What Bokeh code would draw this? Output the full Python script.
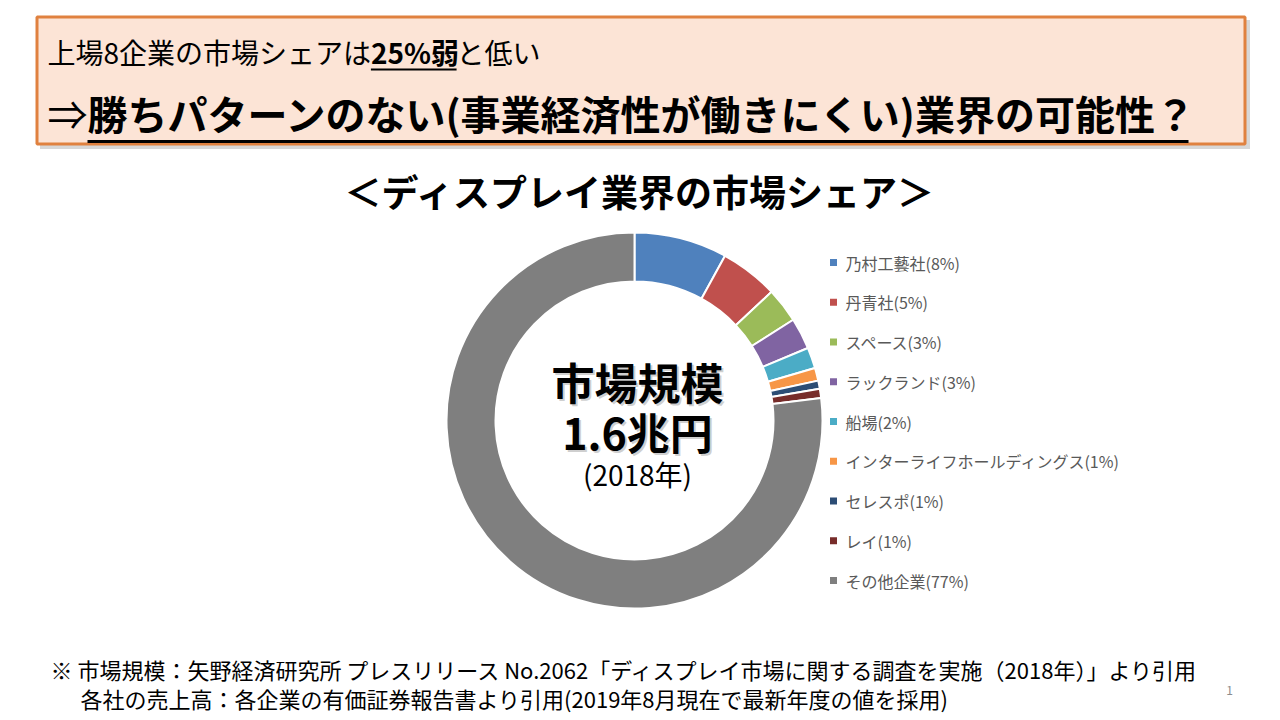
import numpy as np
from bokeh.plotting import figure
from bokeh.models import Range1d, ColumnDataSource
from bokeh.core.properties import value
from bokeh.embed import file_html
from bokeh.resources import INLINE

# ---------------- data ----------------
companies = ["乃村工藝社", "丹青社", "スペース", "ラックランド", "船場",
             "インターライフホールディングス", "セレスポ", "レイ", "その他企業"]
shares = [8.0, 5.0, 3.0, 2.7, 1.8, 1.1, 0.7, 0.8, 76.9]
share_labels = ["8%", "5%", "3%", "3%", "2%", "1%", "1%", "1%", "77%"]
colors = ["#4F81BD", "#C0504D", "#9BBB59", "#8064A2", "#4BACC6",
          "#F79646", "#2C4D75", "#772C2A", "#7F7F7F"]

headline1_a = "上場8企業の市場シェアは"
headline1_b = "25%弱"
headline1_c = "と低い"
headline2_a = "⇒"
headline2_b = "勝ちパターンのない(事業経済性が働きにくい)業界の可能性？"
chart_title = "＜ディスプレイ業界の市場シェア＞"
center_lines = ["市場規模", "1.6兆円", "(2018年)"]
note1 = "※ 市場規模：矢野経済研究所 プレスリリース No.2062「ディスプレイ市場に関する調査を実施（2018年）」より引用"
note2 = "各社の売上高：各企業の有価証券報告書より引用(2019年8月現在で最新年度の値を採用)"
page_no = "1"

FONT = value("Noto Sans CJK JP")
H = 720  # image height; y_data = H - y_image


def Y(y):
    return H - y


p = figure(width=1280, height=720, x_range=Range1d(0, 1280), y_range=Range1d(0, 720),
           output_backend="svg", toolbar_location=None, min_border=0,
           x_axis_type=None, y_axis_type=None)
p.grid.visible = False
p.outline_line_color = None
p.background_fill_color = "white"
p.border_fill_color = "white"

# ---------------- headline box ----------------
p.quad(left=[39.5], right=[1249.5], top=[Y(19.5)], bottom=[Y(148.5)],
       fill_color="#8C8C8C", fill_alpha=0.35, line_color=None)
p.quad(left=[36.5], right=[1244.5], top=[Y(16.5)], bottom=[Y(143.5)],
       fill_color="#FCE4D6", line_color="#E0813F", line_width=3)

fs1 = 28
x0 = 47
# approximate widths in em for Noto Sans CJK JP
wa = (11 + 0.55) * fs1
wb = (2 * 0.58 + 0.9 + 1.0) * fs1
p.text(x=[x0], y=[Y(51)], text=[headline1_a], text_font=FONT, text_font_size=f"{fs1}px",
       text_baseline="middle", text_align="left", text_color="black")
p.text(x=[x0 + wa], y=[Y(51)], text=[headline1_b], text_font=FONT, text_font_size=f"{fs1}px",
       text_font_style="bold", text_baseline="middle", text_align="left", text_color="black")
p.text(x=[x0 + wa + wb], y=[Y(51)], text=[headline1_c], text_font=FONT, text_font_size=f"{fs1}px",
       text_baseline="middle", text_align="left", text_color="black")
p.segment(x0=[x0 + wa], x1=[x0 + wa + wb], y0=[Y(69)], y1=[Y(69)], line_color="black", line_width=2)

fs2 = 40
p.text(x=[x0], y=[Y(112)], text=[headline2_a], text_font=FONT, text_font_size=f"{fs2}px",
       text_baseline="middle", text_align="left", text_color="black")
p.text(x=[x0 + fs2], y=[Y(112)], text=[headline2_b], text_font=FONT, text_font_size=f"{fs2}px",
       text_font_style="bold", text_baseline="middle", text_align="left", text_color="black")
p.segment(x0=[x0 + fs2], x1=[1188], y0=[Y(141)], y1=[Y(141)], line_color="black", line_width=3)

# ---------------- chart title ----------------
p.text(x=[640], y=[Y(190)], text=[chart_title], text_font=FONT, text_font_size="37px",
       text_font_style="bold", text_baseline="middle", text_align="center", text_color="black")

# ---------------- donut ----------------
frac = np.array(shares) / np.sum(shares)
cum = np.concatenate([[0], np.cumsum(frac)])
start = np.pi / 2 - 2 * np.pi * cum[:-1]
end = np.pi / 2 - 2 * np.pi * cum[1:]
src = ColumnDataSource(dict(start=start, end=end, color=colors))
p.annular_wedge(x=634, y=Y(420), inner_radius=139, outer_radius=188,
                start_angle="start", end_angle="end", direction="clock",
                fill_color="color", line_color="white", line_width=2, source=src)

# center text with soft shadow
cx = 637
for txt, yy, size, style in [(center_lines[0], 380, "43px", "bold"),
                             (center_lines[1], 430, "43px", "bold"),
                             (center_lines[2], 473, "28px", "normal")]:
    if style == "bold":
        p.text(x=[cx + 2], y=[Y(yy) - 2], text=[txt], text_font=FONT, text_font_size=size,
               text_font_style=style, text_baseline="middle", text_align="center",
               text_color="#A0A0A0", text_alpha=0.5)
    p.text(x=[cx], y=[Y(yy)], text=[txt], text_font=FONT, text_font_size=size,
           text_font_style=style, text_baseline="middle", text_align="center", text_color="black")

# ---------------- legend ----------------
n = len(companies)
ly = [Y(262 + 39.75 * i) for i in range(n)]
labels = [f"{c}({s})" for c, s in zip(companies, share_labels)]
lsrc = ColumnDataSource(dict(y=ly, color=colors, label=labels))
p.rect(x=833, y="y", width=7, height=7, fill_color="color", line_color=None, source=lsrc)
p.text(x=845, y="y", text="label", text_font=FONT, text_font_size="16px", text_color="#595959",
       text_baseline="middle", text_align="left", source=lsrc)

# ---------------- footnotes ----------------
p.text(x=[50], y=[Y(668)], text=[note1], text_font=FONT, text_font_size="22px",
       text_baseline="middle", text_align="left", text_color="black")
p.text(x=[80], y=[Y(697)], text=[note2], text_font=FONT, text_font_size="22px",
       text_baseline="middle", text_align="left", text_color="black")
p.text(x=[1229], y=[Y(690)], text=[page_no], text_font=FONT, text_font_size="12px",
       text_baseline="middle", text_align="center", text_color="#8C8C8C")

open("out.html", "w").write(file_html(p, INLINE))
